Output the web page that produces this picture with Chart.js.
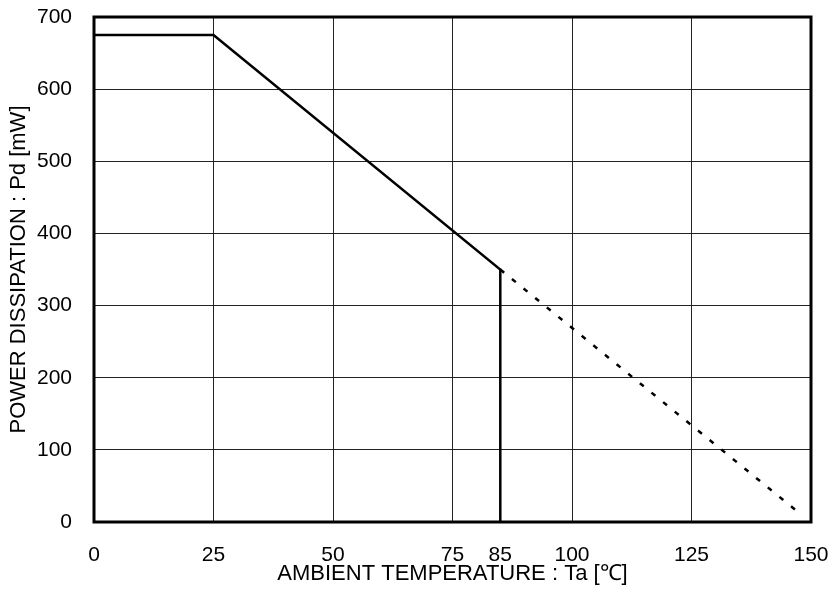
<!DOCTYPE html>
<html>
<head>
<meta charset="utf-8">
<script src="https://cdn.jsdelivr.net/npm/chart.js@4.4.1/dist/chart.umd.min.js"></script>
<style>
html,body{margin:0;padding:0;background:#fff;}
#wrap{width:833px;height:595px;position:relative;}
</style>
</head>
<body>
<div id="wrap"><canvas id="c" width="833" height="595"></canvas></div>
<script>
// Data
const ratedTemp = [0, 25, 85, 85];        // solid derating curve, Ta [°C]
const ratedPower = [675, 675, 350, 0];    // Pd [mW]
const extTemp = [85, 148];                // dashed extension, Ta [°C]
const extPower = [350, 10];               // Pd [mW]
const xTickValues = [0, 25, 50, 75, 85, 100, 125, 150];
const yTickValues = [0, 100, 200, 300, 400, 500, 600, 700];
const xTitle = 'AMBIENT TEMPERATURE : Ta [℃]';
const yTitle = 'POWER DISSIPATION : Pd [mW]';

const FONT = "'Liberation Sans', Arial, sans-serif";
const FS_TICK = 21;
const FS_TITLE = 22;

const framePlugin = {
  id: 'frame',
  afterDatasetsDraw(chart) {
    const {ctx, chartArea: a} = chart;
    ctx.save();
    ctx.strokeStyle = '#000';
    ctx.lineWidth = 3;
    ctx.strokeRect(a.left, a.top, a.right - a.left, a.bottom - a.top);
    ctx.restore();
  }
};

new Chart(document.getElementById('c'), {
  type: 'scatter',
  data: {
    datasets: [
      {
        data: ratedTemp.map((x, i) => ({x, y: ratedPower[i]})),
        showLine: true,
        borderColor: '#000',
        borderWidth: 2.5,
        pointRadius: 0,
        fill: false,
        tension: 0
      },
      {
        data: extTemp.map((x, i) => ({x, y: extPower[i]})),
        showLine: true,
        borderColor: '#000',
        borderWidth: 2.5,
        borderDash: [5, 10],
        pointRadius: 0,
        fill: false,
        tension: 0
      }
    ]
  },
  options: {
    responsive: false,
    animation: false,
    devicePixelRatio: 1,
    layout: {padding: {top: 17, right: 22, left: 0, bottom: 0}},
    plugins: {legend: {display: false}, tooltip: {enabled: false}},
    scales: {
      x: {
        type: 'linear',
        min: 0, max: 150,
        afterBuildTicks(scale) { scale.ticks = xTickValues.map(v => ({value: v})); },
        afterFit(scale) { scale.height = 73; scale.paddingLeft = 0; scale.paddingRight = 0; },
        border: {display: false},
        grid: {
          drawTicks: false,
          color: (c) => (c.tick && (c.tick.value === 85 || c.tick.value === 0 || c.tick.value === 150)) ? 'rgba(0,0,0,0)' : '#222',
          lineWidth: 1
        },
        ticks: {
          color: '#000',
          padding: 21,
          autoSkip: false,
          maxRotation: 0,
          font: {family: FONT, size: FS_TICK},
          callback: (v) => String(v)
        },
        title: {
          display: true,
          text: xTitle,
          color: '#000',
          font: {family: FONT, size: FS_TITLE},
          padding: {top: 0, bottom: 8}
        }
      },
      y: {
        type: 'linear',
        min: 0, max: 700,
        afterBuildTicks(scale) { scale.ticks = yTickValues.map(v => ({value: v})); },
        afterFit(scale) { scale.width = 94; scale.paddingTop = 0; scale.paddingBottom = 0; },
        border: {display: false},
        grid: {
          drawTicks: false,
          color: (c) => (c.tick && (c.tick.value === 0 || c.tick.value === 700)) ? 'rgba(0,0,0,0)' : '#222',
          lineWidth: 1
        },
        ticks: {
          color: '#000',
          padding: 22,
          font: {family: FONT, size: FS_TICK},
          callback: (v) => String(v)
        },
        title: {
          display: true,
          text: yTitle,
          color: '#000',
          font: {family: FONT, size: FS_TITLE},
          padding: {top: 6, bottom: 0}
        }
      }
    }
  },
  plugins: [framePlugin]
});
</script>
</body>
</html>
